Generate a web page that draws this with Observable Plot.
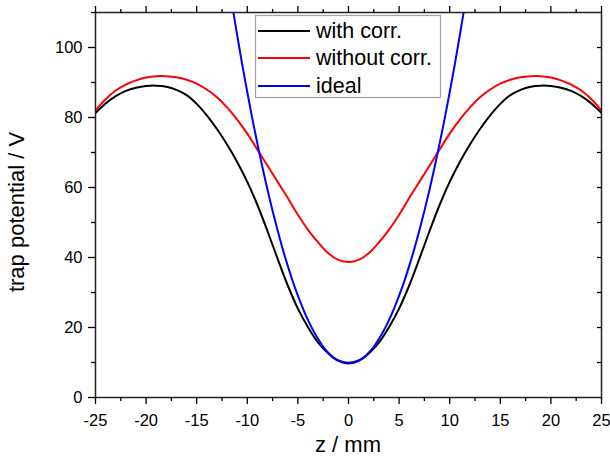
<!DOCTYPE html>
<html><head><meta charset="utf-8">
<script src="https://cdn.jsdelivr.net/npm/d3@7"></script>
<script src="https://cdn.jsdelivr.net/npm/@observablehq/plot@0.6"></script>
<style>body{margin:0;background:#fff;} svg{display:block}</style>
</head><body><div id="chart"></div>
<script>
// z positions (mm) for the two measured curves
const zValues = [-25,-24,-23,-22,-21,-20,-19,-18,-17,-16,-15,-14,-13,-12,-11,-10,-9,-8,-7,-6,-5,-4,-3,-2,-1,0,
  1,2,3,4,5,6,7,8,9,10,11,12,13,14,15,16,17,18,19,20,21,22,23,24,25];
// trap potential (V) with correction
const withCorr = [81.3,84.0,86.1,87.6,88.5,89.0,89.1,88.8,87.9,86.4,83.9,80.6,76.7,72.3,67.3,61.6,55.0,47.5,39.6,32.0,25.4,20.1,15.7,12.6,10.6,9.9,
  10.6,12.6,15.7,20.1,25.4,32.0,39.6,47.5,55.0,61.6,67.3,72.3,76.7,80.6,83.9,86.4,87.9,88.8,89.1,89.0,88.5,87.6,86.1,84.0,81.3];
// trap potential (V) without correction
const withoutCorr = [82.0,85.2,87.7,89.4,90.6,91.4,91.8,91.8,91.5,90.8,89.7,88.0,85.8,82.9,79.4,75.4,70.8,66.2,61.6,57.0,52.2,47.9,44.3,41.2,39.3,38.7,
  39.3,41.2,44.3,47.9,52.2,57.0,61.6,66.2,70.8,75.4,79.4,82.9,85.8,88.0,89.7,90.8,91.5,91.8,91.8,91.4,90.6,89.4,87.7,85.2,82.0];
// ideal potential
const idealZ = [-12,-11.5,-11,-10.5,-10,-9.5,-9,-8.5,-8,-7.5,-7,-6.5,-6,-5.5,-5,-4.5,-4,-3.5,-3,-2.5,-2,-1.5,-1,-0.5,0,
  0.5,1,1.5,2,2.5,3,3.5,4,4.5,5,5.5,6,6.5,7,7.5,8,8.5,9,9.5,10,10.5,11,11.5,12];
const idealV = [121.3,112.2,103.5,95.1,87.2,79.6,72.5,65.7,59.3,53.3,47.7,42.4,37.6,33.1,29.1,25.4,22.1,19.2,16.7,14.5,12.8,11.4,10.5,9.9,9.7,
  9.9,10.5,11.4,12.8,14.5,16.7,19.2,22.1,25.4,29.1,33.1,37.6,42.4,47.7,53.3,59.3,65.7,72.5,79.6,87.2,95.1,103.5,112.2,121.3];

const xMajor = [-25,-20,-15,-10,-5,0,5,10,15,20,25];
const xMinor = [-22.5,-17.5,-12.5,-7.5,-2.5,2.5,7.5,12.5,17.5,22.5];
const yMajor = [0,20,40,60,80,100];
const yMinor = [10,30,50,70,90,110];
const yRight = [10,20,30,40,50,60,70,80,90,100];

const seriesNames = ["with corr.", "without corr.", "ideal"];
const seriesColors = ["#000000", "#ff0000", "#0000ff"];

const blackRows = zValues.map((z, i) => ({z, v: withCorr[i]}));
const redRows = zValues.map((z, i) => ({z, v: withoutCorr[i]}));
const blueRows = idealZ.map((z, i) => ({z, v: idealV[i]}));

const font = "'Liberation Sans', Arial, sans-serif";
const chart = Plot.plot({
  width: 610, height: 461,
  marginLeft: 95, marginRight: 9, marginTop: 12, marginBottom: 64,
  style: {fontFamily: font, fontSize: "16.5px", color: "#000", background: "#fff", overflow: "visible"},
  x: {domain: [-25, 25], label: null},
  y: {domain: [0, 110], label: null},
  marks: [
    Plot.line(blackRows, {x: "z", y: "v", stroke: seriesColors[0], strokeWidth: 2, curve: "catmull-rom", clip: true}),
    Plot.line(redRows, {x: "z", y: "v", stroke: seriesColors[1], strokeWidth: 2, curve: "catmull-rom", clip: true}),
    Plot.line(blueRows, {x: "z", y: "v", stroke: seriesColors[2], strokeWidth: 2, curve: "catmull-rom", clip: true}),
    Plot.frame({stroke: "#222", strokeWidth: 1.5}),
    Plot.axisX({ticks: xMajor, tickSize: 7, tickPadding: 10, tickFormat: d => String(d), label: null, strokeWidth: 1.3}),
    Plot.axisX({ticks: xMinor, tickSize: 4, fill: "none", label: null, strokeWidth: 1.3}),
    Plot.axisX({anchor: "top", ticks: xMajor, tickSize: 7, fill: "none", label: null, strokeWidth: 1.3}),
    Plot.axisX({anchor: "top", ticks: xMinor, tickSize: 4, fill: "none", label: null, strokeWidth: 1.3}),
    Plot.axisY({ticks: yMajor, tickSize: 7, tickPadding: 6, tickFormat: d => String(d), label: null, strokeWidth: 1.3}),
    Plot.axisY({ticks: yMinor, tickSize: 4, fill: "none", label: null, strokeWidth: 1.3}),
    Plot.axisY({anchor: "right", ticks: yRight, tickSize: 5, dx: -5, fill: "none", label: null, strokeWidth: 1.3})
  ]
});
document.getElementById("chart").appendChild(chart);

const svg = d3.select(chart);
// axis titles
svg.append("text").attr("x", 348).attr("y", 452).attr("text-anchor", "middle")
  .attr("font-family", font).attr("font-size", 22).attr("fill", "#000").text("z / mm");
svg.append("text").attr("transform", "translate(24,212) rotate(-90)").attr("text-anchor", "middle")
  .attr("font-family", font).attr("font-size", 22).attr("fill", "#000").text("trap potential / V");

// legend
const lg = svg.append("g");
lg.append("rect").attr("x", 255.5).attr("y", 15.5).attr("width", 185).attr("height", 82)
  .attr("fill", "#fff").attr("stroke", "#a0a0a0").attr("stroke-width", 1.2);
const rowsY = [31, 58, 86];
seriesNames.forEach((name, i) => {
  lg.append("line").attr("x1", 258).attr("x2", 310).attr("y1", rowsY[i]).attr("y2", rowsY[i])
    .attr("stroke", seriesColors[i]).attr("stroke-width", 2);
  lg.append("text").attr("x", 316).attr("y", rowsY[i] + 7).attr("text-anchor", "start")
    .attr("font-family", font).attr("font-size", 21.5).attr("fill", "#000").text(name);
});
</script>
</body></html>
